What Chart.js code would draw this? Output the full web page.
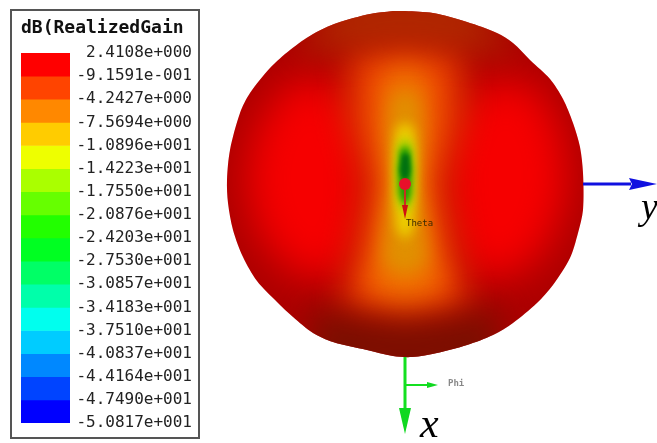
<!DOCTYPE html>
<html>
<head>
<meta charset="utf-8">
<title>dB(RealizedGain)</title>
<script src="https://cdn.jsdelivr.net/npm/chart.js@4"></script>
<style>
  html, body { margin: 0; padding: 0; background: #fff; }
  body { width: 657px; height: 443px; position: relative; overflow: hidden; }
  canvas { position: absolute; filter: blur(0.35px); }
  #legendBox { position: absolute; left: 10px; top: 9px; width: 190px; height: 430px; box-sizing: border-box; border: 2px solid #555; }
  #legendChart { left: 10px; top: 9px; }
  #patternChart { left: 205px; top: 0; }
</style>
</head>
<body>
<div id="legendBox"></div>
<canvas id="legendChart" width="190" height="430"></canvas>
<canvas id="patternChart" width="452" height="443"></canvas>
<script>
// ---- Colour key ----
const legendTitle = 'dB(RealizedGain';
const levels = [2.4108, -0.91591, -4.2427, -7.5694, -10.896, -14.223, -17.55, -20.876, -24.203,
  -27.53, -30.857, -34.183, -37.51, -40.837, -44.164, -47.49, -50.817];
const tickLabels = ['2.4108e+000', '-9.1591e-001', '-4.2427e+000', '-7.5694e+000', '-1.0896e+001',
  '-1.4223e+001', '-1.7550e+001', '-2.0876e+001', '-2.4203e+001', '-2.7530e+001', '-3.0857e+001',
  '-3.4183e+001', '-3.7510e+001', '-4.0837e+001', '-4.4164e+001', '-4.7490e+001', '-5.0817e+001'];
const bandColors = ['#ff0000', '#ff4400', '#ff8800', '#ffcc00', '#eeff00', '#aaff00', '#66ff00', '#22ff00',
  '#00ff22', '#00ff66', '#00ffaa', '#00ffee', '#00ccff', '#0088ff', '#0044ff', '#0000ff'];

// ---- Pattern shape, [along y, along x] from the origin ----
const outline = [[0,-173],[28,-171],[62,-162],[92,-151],[108,-141],[125,-124],[145,-105],[158,-85],[168,-61],
  [175,-37],[178,-11],[178,26],[173,49],[165,74],[148,101],[132,119],[108,139],[88,151],[62,161],[32,169],
  [7,173],[-12,172],[-38,166],[-72,158],[-92,149],[-112,133],[-128,118],[-148,97],[-162,73],[-172,46],
  [-177,19],[-178,-4],[-175,-34],[-165,-71],[-155,-91],[-135,-116],[-115,-134],[-92,-150],[-68,-161],
  [-35,-170],[-12,-173]];
const leftLobe = [[-150,-55],[-115,-105],[-70,-105],[-40,-50],[-40,30],[-55,90],[-105,95],[-145,55],[-160,0]];
const rightLobe = [[50,-65],[80,-105],[130,-100],[158,-50],[163,10],[142,65],[105,95],[60,90],[42,30],[40,-30]];
const topCap = [[-110,-128],[-60,-190],[60,-190],[110,-128],[70,-135],[0,-138],[-70,-135]];
const bottomCap = [[-95,122],[-50,132],[0,136],[50,132],[95,122],[90,190],[-90,190]];
const orangeRed = [[-55,-135],[0,-145],[55,-135],[58,-70],[38,0],[50,70],[65,125],[0,145],[-65,125],[-50,70],[-38,0],[-58,-70]];
const orange = [[-26,-108],[0,-122],[26,-108],[28,-60],[18,0],[28,60],[38,105],[0,118],[-38,105],[-28,60],[-18,0],[-28,-60]];
const amber = [[-14,-85],[0,-95],[14,-85],[16,-50],[13,0],[20,50],[22,80],[0,92],[-22,80],[-20,50],[-13,0],[-16,-50]];
const yellow = [[-9,-55],[0,-62],[9,-55],[11,-30],[10,20],[8,46],[0,56],[-8,46],[-11,20],[-11,-30]];
const limeCore = [[-7,-42],[0,-46],[7,-42],[9,-15],[8,15],[3,28],[-3,28],[-8,15],[-9,-15]];
const greenCore = [[-5,-34],[0,-38],[5,-34],[7,-15],[6,10],[2,20],[-2,20],[-6,10],[-7,-15]];
const darkCore = [[-3,-29],[0,-30],[4,-29],[5,-14],[3,-5],[-3,-5],[-5,-14]];

// ---- Axis triad ----
const yAxisLine = [[178,0],[226,0]];
const yAxisHead = [[224,-6],[252,0],[224,6],[227,0]];
const xAxisLine = [[0,173],[0,226]];
const xAxisHead = [[-6,224],[0,250],[6,224]];
const phiLine = [[0,201],[24,201]];
const phiHead = [[22,198],[33,201],[22,204]];
const thetaLine = [[0,0],[0,22]];
const thetaHead = [[-3,21],[0,35],[3,21]];
const originMark = [[0,0]];
const annotations = [
  { text: 'Theta', at: [1,42], font: '9px "DejaVu Sans Mono"', color: '#3a2a00' },
  { text: 'Phi', at: [43,202], font: 'bold 9px "DejaVu Sans Mono"', color: '#888888' },
  { text: 'y', at: [236,35], font: 'italic 38px "Liberation Serif"', color: '#000000' },
  { text: 'x', at: [15,253], font: 'italic 42px "Liberation Serif"', color: '#000000' }
];

const toXY = pts => pts.map(p => ({ x: p[0], y: p[1] }));

new Chart(document.getElementById('legendChart'), {
  type: 'bar',
  data: {
    labels: [''],
    datasets: bandColors.map((c, i) => ({
      data: [[levels[i + 1], levels[i]]],
      backgroundColor: c,
      barPercentage: 1,
      categoryPercentage: 1
    }))
  },
  options: {
    responsive: false,
    animation: false,
    layout: { autoPadding: false, padding: { left: 11, right: 8, top: 0, bottom: 16 } },
    plugins: {
      legend: { display: false },
      tooltip: { enabled: false },
      title: {
        display: true,
        text: legendTitle,
        align: 'start',
        color: '#111',
        font: { family: '"DejaVu Sans Mono"', weight: 'bold', size: 18 },
        padding: { top: 9, bottom: 13.4 }
      }
    },
    scales: {
      x: { stacked: true, display: false },
      y: {
        position: 'right',
        min: levels[levels.length - 1],
        max: levels[0],
        grid: { display: false, drawTicks: false },
        border: { display: false },
        afterBuildTicks: axis => { axis.ticks = levels.map(v => ({ value: v })); },
        afterFit: axis => { axis.width = 122; },
        ticks: {
          autoSkip: false,
          padding: 0,
          crossAlign: 'far',
          color: '#222',
          font: { family: '"DejaVu Sans Mono"', size: 16 },
          callback: (v, i) => tickLabels[i]
        }
      }
    }
  }
});

// line controller that fills a soft colour patch, clipped to the pattern outline
class ContourController extends Chart.LineController {
  draw() {
    const ctx = this.chart.ctx;
    const ds = this.getDataset();
    const pts = this.getMeta().data;
    ctx.save();
    ctx.beginPath();
    this.chart.getDatasetMeta(0).dataset.path(ctx);
    ctx.clip();
    ctx.filter = `blur(${ds.blur}px)`;
    ctx.fillStyle = ds.backgroundColor;
    ctx.beginPath();
    pts.forEach((p, i) => i ? ctx.lineTo(p.x, p.y) : ctx.moveTo(p.x, p.y));
    ctx.closePath();
    ctx.fill();
    ctx.restore();
  }
}
ContourController.id = 'contour';
Chart.register(ContourController);

const textPlugin = {
  id: 'axisText',
  afterDraw(chart) {
    const { ctx, scales } = chart;
    ctx.save();
    ctx.textBaseline = 'alphabetic';
    annotations.forEach(a => {
      ctx.font = a.font;
      ctx.fillStyle = a.color;
      ctx.fillText(a.text, scales.x.getPixelForValue(a.at[0]), scales.y.getPixelForValue(a.at[1]));
    });
    ctx.restore();
  }
};

const patches = [
  [leftLobe, '#f60000', 20],
  [rightLobe, '#f60000', 20],
  [orangeRed, '#ea4000', 16],
  [orange, '#f07000', 12],
  [topCap, 'rgba(176,44,0,0.9)', 16],
  [bottomCap, 'rgba(120,16,0,0.95)', 16],
  [amber, '#e09000', 9],
  [yellow, '#ecd000', 6],
  [limeCore, '#a8d000', 4],
  [greenCore, '#209c00', 3],
  [darkCore, '#007010', 2]
];
const shapes = [
  [yAxisHead, '#1010e0'],
  [xAxisHead, '#10d820'],
  [phiHead, '#10d820'],
  [thetaHead, '#d01010']
];
const strokes = [
  [yAxisLine, '#1010e0', 3],
  [xAxisLine, '#14e020', 3],
  [phiLine, '#14e020', 2],
  [thetaLine, '#c83020', 2]
];

const datasets = [{
  data: toXY(outline), backgroundColor: '#ac0000', fill: 'shape', tension: 0.3,
  borderWidth: 0, pointRadius: 0
}];
patches.forEach(p => datasets.push({ type: 'contour', data: toXY(p[0]), backgroundColor: p[1], blur: p[2], pointRadius: 0 }));
strokes.forEach(s => datasets.push({ data: toXY(s[0]), borderColor: s[1], borderWidth: s[2], fill: false, pointRadius: 0 }));
shapes.forEach(s => datasets.push({ data: toXY(s[0]), backgroundColor: s[1], fill: 'shape', borderWidth: 0, pointRadius: 0 }));
datasets.push({ data: toXY(originMark), showLine: false, pointRadius: 6, pointBackgroundColor: '#e8102a', pointBorderWidth: 0 });
datasets.forEach((d, i) => { d.order = datasets.length - i; });

new Chart(document.getElementById('patternChart'), {
  type: 'line',
  data: { datasets },
  plugins: [textPlugin],
  options: {
    responsive: false,
    animation: false,
    layout: { autoPadding: false, padding: 0 },
    plugins: { legend: { display: false }, tooltip: { enabled: false } },
    scales: {
      x: { type: 'linear', min: -200, max: 252, display: false },
      y: { type: 'linear', min: -184, max: 259, reverse: true, display: false }
    }
  }
});
</script>
</body>
</html>
